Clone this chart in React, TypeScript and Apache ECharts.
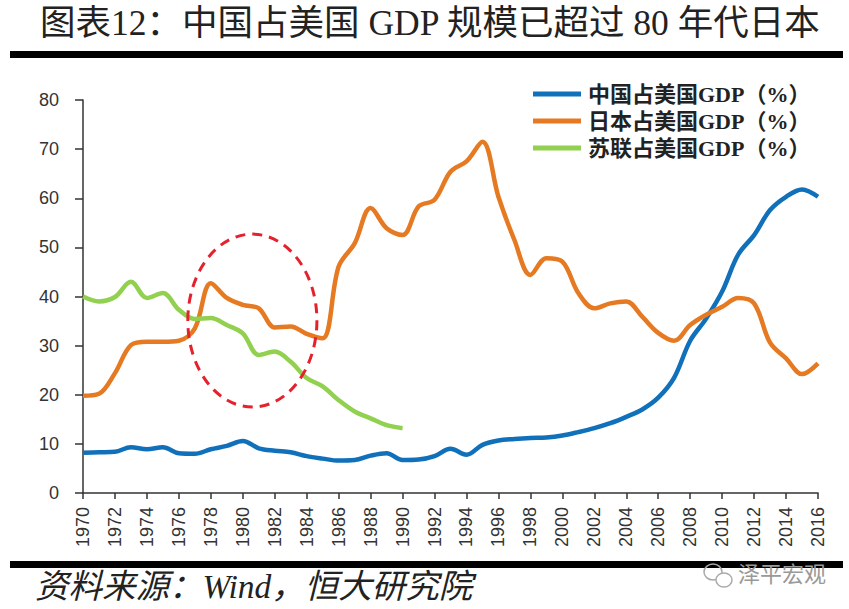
import React, { useEffect, useRef } from "react";
import * as echarts from "echarts";

const years = [
  1970, 1971, 1972, 1973, 1974, 1975, 1976, 1977, 1978, 1979,
  1980, 1981, 1982, 1983, 1984, 1985, 1986, 1987, 1988, 1989,
  1990, 1991, 1992, 1993, 1994, 1995, 1996, 1997, 1998, 1999,
  2000, 2001, 2002, 2003, 2004, 2005, 2006, 2007, 2008, 2009,
  2010, 2011, 2012, 2013, 2014, 2015, 2016,
];

const chinaShare = [
  8.2, 8.3, 8.4, 9.3, 8.9, 9.3, 8.1, 8.0, 8.9, 9.6,
  10.6, 9.1, 8.6, 8.3, 7.5, 7.0, 6.6, 6.7, 7.6, 8.1,
  6.7, 6.8, 7.5, 9.0, 7.8, 9.8, 10.7, 11.0, 11.2, 11.3,
  11.7, 12.4, 13.2, 14.2, 15.5, 17.0, 19.4, 23.5, 31.0, 35.5,
  41.0, 48.5, 52.5, 57.6, 60.3, 61.8, 60.3,
];

const japanShare = [
  19.8, 20.2, 24.4, 30.1, 30.8, 30.8, 31.0, 33.5, 42.7, 39.7,
  38.3, 37.6, 33.7, 33.9, 32.4, 31.5, 46.1, 50.8, 58.0, 53.9,
  52.5, 58.3, 59.7, 65.4, 67.5, 71.5, 60.3, 51.5, 44.4, 47.8,
  47.1, 40.7, 37.6, 38.6, 39.0, 35.9, 32.6, 31.0, 34.2, 36.3,
  37.9, 39.7, 38.6, 30.6, 27.4, 24.2, 26.4,
];

const ussrShare = [
  40.0, 39.0, 39.9, 43.0, 39.7, 40.7, 37.3, 35.4, 35.6, 34.2,
  32.5, 28.1, 28.8, 26.7, 23.4, 21.7, 18.9, 16.6, 15.2, 13.8,
  13.2,
];

const seriesNames = ["中国占美国GDP（%）", "日本占美国GDP（%）", "苏联占美国GDP（%）"];
const seriesColors = ["#1170BA", "#E57A22", "#92D050"];

const titleText = "图表12：中国占美国 GDP 规模已超过 80 年代日本";
const sourceText = "资料来源：Wind，恒大研究院";
const watermarkText = "泽平宏观";

// highlighted region (annotation): centre year/value and radii in data units
const circleCenter = [1980.6, 35.1];
const circleRadius = [4.04, 17.6];

function pairs(vals: number[]) {
  return vals.map((v, i) => [years[i], v]);
}

export default function App() {
  const ref = useRef<HTMLDivElement>(null);
  useEffect(() => {
    document.body.style.margin = "0";
    const chart = echarts.init(ref.current!, null, { renderer: "svg" });
    const allVals = [chinaShare, japanShare, ussrShare];
    chart.setOption({
      animation: false,
      backgroundColor: "#ffffff",
      grid: { left: 83, right: 31, top: 100, bottom: 116 },
      legend: {
        orient: "vertical",
        left: 528,
        top: 78,
        itemWidth: 48,
        itemHeight: 5,
        itemGap: 5,
        icon: "rect",
        data: seriesNames,
        textStyle: {
          fontFamily: "'Liberation Serif', 'Noto Sans CJK SC', serif",
          fontWeight: "bold",
          fontSize: 22,
          color: "#222",
          padding: [0, 0, 0, 2],
        },
      },
      xAxis: {
        type: "value",
        min: 1970,
        max: 2016,
        interval: 2,
        axisLine: { lineStyle: { color: "#333", width: 1.5 } },
        axisTick: { length: 6, lineStyle: { color: "#333", width: 1.5 } },
        splitLine: { show: false },
        axisLabel: {
          rotate: 90,
          margin: 14,
          fontSize: 18,
          fontFamily: "'Liberation Sans', Arial, sans-serif",
          color: "#333",
          formatter: (v: number) => String(v),
        },
      },
      yAxis: {
        type: "value",
        min: 0,
        max: 80,
        interval: 10,
        axisLine: { show: true, lineStyle: { color: "#333", width: 1.5 } },
        axisTick: { show: true, length: 8, lineStyle: { color: "#333", width: 1.5 } },
        splitLine: { show: false },
        axisLabel: {
          margin: 24,
          fontSize: 18,
          fontFamily: "'Liberation Sans', Arial, sans-serif",
          color: "#333",
        },
      },
      series: seriesNames.map((name, i) => ({
        name,
        type: "line",
        data: pairs(allVals[i]),
        smooth: 0.35,
        symbol: "none",
        showSymbol: false,
        lineStyle: { color: seriesColors[i], width: 4.5 },
        itemStyle: { color: seriesColors[i] },
      })),
    });

    const c = chart.convertToPixel({ gridIndex: 0 }, circleCenter) as number[];
    const r = chart.convertToPixel({ gridIndex: 0 }, [
      circleCenter[0] + circleRadius[0],
      circleCenter[1] + circleRadius[1],
    ]) as number[];

    chart.setOption({
      graphic: [
        {
          type: "text",
          left: 40,
          top: 5,
          style: {
            text: titleText,
            fontSize: 35.5,
            fontFamily: "'Liberation Serif', 'Noto Sans CJK SC', serif",
            fill: "#222",
          },
        },
        { type: "rect", shape: { x: 10, y: 51, width: 833, height: 7 }, style: { fill: "#000" } },
        { type: "rect", shape: { x: 10, y: 561, width: 833, height: 7 }, style: { fill: "#000" } },
        {
          type: "text",
          left: 35,
          top: 570,
          style: {
            text: sourceText,
            fontSize: 33.5,
            fontStyle: "italic",
            fontFamily: "'Liberation Serif', 'Noto Sans CJK SC', serif",
            fill: "#222",
          },
        },
        {
          type: "ellipse",
          shape: { cx: 713, cy: 572, rx: 9, ry: 8 },
          style: { fill: "none", stroke: "#aaa", lineWidth: 1.5 },
        },
        {
          type: "ellipse",
          shape: { cx: 724, cy: 580, rx: 8, ry: 7 },
          style: { fill: "#fff", stroke: "#aaa", lineWidth: 1.5 },
        },
        {
          type: "text",
          left: 738,
          top: 561,
          style: {
            text: watermarkText,
            fontSize: 22,
            fontFamily: "'Noto Sans CJK SC', sans-serif",
            fill: "#999",
          },
        },
        {
          type: "ellipse",
          shape: { cx: c[0], cy: c[1], rx: Math.abs(r[0] - c[0]), ry: Math.abs(c[1] - r[1]) },
          style: { fill: "none", stroke: "#E5212E", lineWidth: 3, lineDash: [10, 7] },
          z: 10,
        },
      ],
    });
    return () => chart.dispose();
  }, []);
  return <div ref={ref} style={{ width: 849, height: 609 }} />;
}
